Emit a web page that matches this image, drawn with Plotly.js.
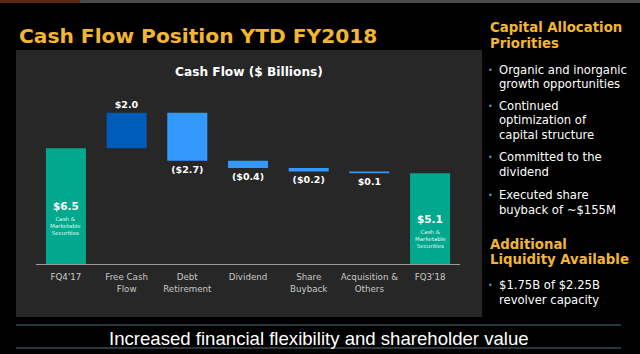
<!DOCTYPE html>
<html>
<head>
<meta charset="utf-8">
<script src="https://cdn.plot.ly/plotly-3.0.1.min.js"></script>
<style>
html,body{margin:0;padding:0;background:#000;}
#chart{width:640px;height:354px;}
</style>
</head>
<body>
<div id="chart"></div>
<script>
// ---- Data ----
const categories = ["FQ4'17", "Free Cash<br>Flow", "Debt<br>Retirement", "Dividend", "Share<br>Buyback", "Acquisition &<br>Others", "FQ3'18"];
const measures = ["absolute", "relative", "relative", "relative", "relative", "relative", "total"];
const values = [6.5, 2.0, -2.7, -0.4, -0.2, -0.1, 5.1];
const valueLabels = ["$6.5", "$2.0", "($2.7)", "($0.4)", "($0.2)", "$0.1", "$5.1"];
const totalSubLabel = "Cash &<br>Marketable<br>Securities";
const slideTitle = "Cash Flow Position YTD FY2018";
const chartTitle = "Cash Flow ($ Billions)";
const footerText = "Increased financial flexibility and shareholder value";
const heading1 = ["Capital Allocation", "Priorities"];
const bullets1 = [
  ["Organic and inorganic", "growth opportunities"],
  ["Continued", "optimization of", "capital structure"],
  ["Committed to the", "dividend"],
  ["Executed share", "buyback of ~$155M"]
];
const heading2 = ["Additional", "Liquidity Available"];
const bullets2 = [["$1.75B of $2.25B", "revolver capacity"]];

// ---- Helpers (pixel -> paper) ----
const W = 640, H = 354;
const px = x => x / W;
const py = y => 1 - y / H;

const ORANGE = '#f2b632';
const WHITE = '#ffffff';
const SANS = 'DejaVu Sans, Verdana, sans-serif';

const isTotal = measures.map(m => m !== 'relative');

const trace = {
  type: 'waterfall',
  x: categories,
  y: values,
  measure: measures,
  text: valueLabels.map((t, i) => isTotal[i] ? '' : '<b>' + t + '</b>'),
  textposition: isTotal.map(t => t ? 'none' : 'outside'),
  outsidetextfont: {color: WHITE, size: 9.5, family: SANS},
  cliponaxis: false,
  increasing: {marker: {color: '#005cbb'}},
  decreasing: {marker: {color: '#3399ff'}},
  totals: {marker: {color: '#00a88e'}},
  connector: {visible: false},
  hoverinfo: 'skip'
};

const annotations = [];
values.forEach((v, i) => {
  if (!isTotal[i]) return;
  annotations.push({x: categories[i], y: v / 2, xref: 'x', yref: 'y', text: '<b>' + valueLabels[i] + '</b>',
    showarrow: false, font: {color: WHITE, size: 10.5, family: SANS}, yanchor: 'middle'});
  annotations.push({x: categories[i], y: v / 2, xref: 'x', yref: 'y', text: totalSubLabel,
    showarrow: false, font: {color: '#e8f6f2', size: 5.5, family: SANS}, yanchor: 'top', yshift: -8});
});

annotations.push({x: px(17), y: py(36), xref: 'paper', yref: 'paper', xanchor: 'left', yanchor: 'middle',
  text: '<b>' + slideTitle + '</b>', showarrow: false, font: {color: ORANGE, size: 20.2, family: SANS}});
annotations.push({x: px(249), y: py(72), xref: 'paper', yref: 'paper', xanchor: 'center', yanchor: 'middle',
  text: '<b>' + chartTitle + '</b>', showarrow: false, font: {color: WHITE, size: 12.2, family: SANS}});
annotations.push({x: px(319), y: py(338), xref: 'paper', yref: 'paper', xanchor: 'center', yanchor: 'middle',
  text: footerText, showarrow: false, font: {color: WHITE, size: 18.6, family: 'Liberation Sans, Arial, sans-serif'}});

const headY1 = [27, 44];
heading1.forEach((t, i) => annotations.push({x: px(488), y: py(headY1[i]), xref: 'paper', yref: 'paper', xanchor: 'left', yanchor: 'middle',
  text: '<b>' + t + '</b>', showarrow: false, font: {color: ORANGE, size: 13.3, family: SANS}}));
const bulletY1 = [[70, 84], [106, 120, 135], [157, 172], [195, 210]];
const shapes = [];
function addBullet(lines, ys) {
  annotations.push({x: px(490), y: py(ys[0]), xref: 'paper', yref: 'paper', xanchor: 'center', yanchor: 'middle',
    text: '•', showarrow: false, font: {color: '#46a6b4', size: 8, family: SANS}});
  lines.forEach((t, j) => annotations.push({x: px(497), y: py(ys[j]), xref: 'paper', yref: 'paper', xanchor: 'left', yanchor: 'middle',
    text: t, showarrow: false, font: {color: WHITE, size: 11.6, family: SANS}}));
}
bullets1.forEach((b, i) => addBullet(b, bulletY1[i]));
const headY2 = [244, 259];
heading2.forEach((t, i) => annotations.push({x: px(488), y: py(headY2[i]), xref: 'paper', yref: 'paper', xanchor: 'left', yanchor: 'middle',
  text: '<b>' + t + '</b>', showarrow: false, font: {color: ORANGE, size: 13.3, family: SANS}}));
addBullet(bullets2[0], [285, 300]);

shapes.push({type: 'rect', xref: 'paper', yref: 'paper', x0: px(16), x1: px(482), y0: py(317), y1: py(50),
  fillcolor: '#272727', line: {width: 0}, layer: 'below'});
shapes.push({type: 'rect', xref: 'paper', yref: 'paper', x0: 0, x1: px(80), y0: py(3), y1: 1,
  fillcolor: '#5a2616', line: {width: 0}, layer: 'below'});
shapes.push({type: 'rect', xref: 'paper', yref: 'paper', x0: px(80), x1: 1, y0: py(3), y1: 1,
  fillcolor: '#4a4a4a', line: {width: 0}, layer: 'below'});
shapes.push({type: 'line', xref: 'paper', yref: 'paper', x0: px(16), x1: px(621), y0: py(325), y1: py(325),
  line: {color: '#4f6d72', width: 1}});
shapes.push({type: 'line', xref: 'paper', yref: 'paper', x0: px(16), x1: px(621), y0: py(348), y1: py(348),
  line: {color: '#4f6d72', width: 1}});

const layout = {
  width: W, height: H,
  margin: {l: 0, r: 0, t: 0, b: 0, pad: 0},
  paper_bgcolor: '#000000',
  plot_bgcolor: 'rgba(0,0,0,0)',
  showlegend: false,
  waterfallgap: 0.34,
  xaxis: {
    domain: [px(35.6), px(460.4)],
    showline: true, linecolor: '#9a9a9a', linewidth: 1,
    showgrid: false, zeroline: false, ticks: '',
    ticklabelstandoff: 5,
    tickfont: {color: '#c8c8c8', size: 8.7, family: SANS},
    fixedrange: true
  },
  yaxis: {
    domain: [py(264), py(86)],
    range: [0, 10],
    visible: false, showgrid: false, zeroline: false, fixedrange: true
  },
  annotations: annotations,
  shapes: shapes
};

Plotly.newPlot('chart', [trace], layout, {displayModeBar: false, staticPlot: true});
</script>
</body>
</html>
